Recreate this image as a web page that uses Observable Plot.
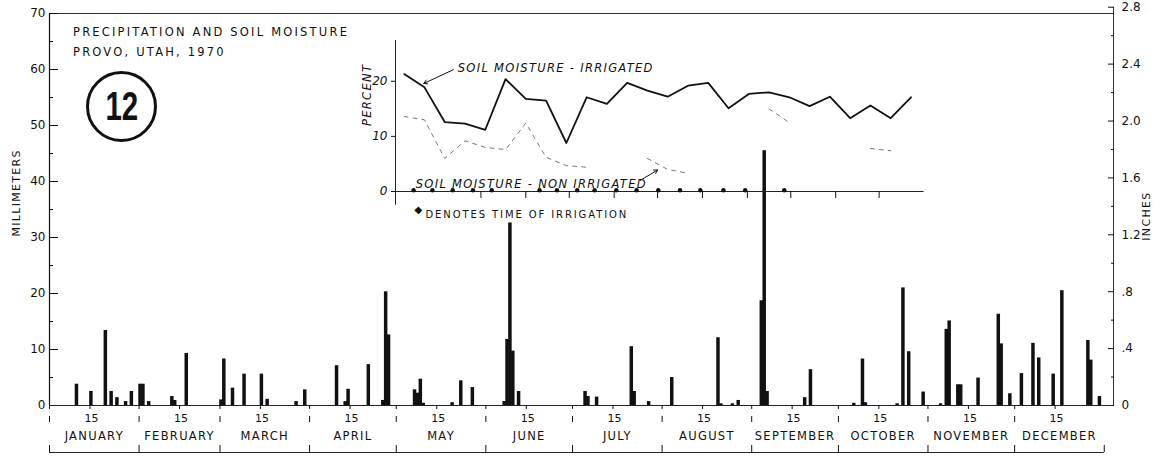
<!DOCTYPE html>
<html><head><meta charset="utf-8">
<script src="https://cdn.jsdelivr.net/npm/d3@7"></script>
<script src="https://cdn.jsdelivr.net/npm/@observablehq/plot@0.6"></script>
<style>
html,body{margin:0;padding:0;background:#fff;}
#wrap{position:relative;width:1162px;height:457px;overflow:hidden;font-family:"DejaVu Sans",sans-serif;color:#111;background:#fff;}
#main{position:absolute;left:0;top:0;}
#inset{position:absolute;left:340px;top:30px;}
.title{position:absolute;left:73px;font-size:11.5px;letter-spacing:2.2px;white-space:nowrap;}
.badge{position:absolute;left:86px;top:71px;width:65px;height:65px;border:3px solid #111;border-radius:50%;display:flex;align-items:center;justify-content:center;}
.badge span{font-family:"Liberation Sans",sans-serif;font-weight:bold;font-size:41px;transform:scaleX(0.72);display:inline-block;line-height:1;}
</style>
</head><body>
<div id="wrap">
  <div id="main"></div>
  <div class="title" style="top:25px">PRECIPITATION AND SOIL MOISTURE</div>
  <div class="title" style="top:45px">PROVO, UTAH, 1970</div>
  <div class="badge"><span>12</span></div>
  <div id="inset"></div>
</div>
<script>
// ---------- DATA ----------
// daily precipitation, Provo 1970 (millimeters)
const precipDates = ["01-10","01-15","01-20","01-22","01-24","01-27","01-29","02-01","02-02","02-04",
  "02-12","02-13","02-17","03-01","03-02","03-05","03-09","03-15","03-17","03-27","03-30",
  "04-10","04-13","04-14","04-21","04-26","04-27","04-28",
  "05-07","05-08","05-09","05-10","05-20","05-23","05-27",
  "06-07","06-08","06-09","06-10","06-12",
  "07-05","07-06","07-09","07-21","07-22","07-27",
  "08-04","08-20","08-21","08-25","08-27",
  "09-04","09-05","09-06","09-19","09-21",
  "10-06","10-09","10-10","10-21","10-23","10-25","10-30",
  "11-05","11-07","11-08","11-11","11-12","11-18","11-25","11-26","11-29",
  "12-03","12-07","12-09","12-14","12-17","12-26","12-27","12-30"];
const precipMM = [3.8,2.5,13.4,2.5,1.4,0.7,2.5,3.8,3.8,0.7,
  1.6,0.9,9.3,1.0,8.3,3.1,5.6,5.6,1.1,0.7,2.8,
  7.1,0.7,2.9,7.3,0.9,20.3,12.6,
  2.8,2.2,4.7,0.4,0.5,4.4,3.2,
  0.7,11.8,32.6,9.7,2.5,
  2.5,1.6,1.5,10.5,2.5,0.7,
  5.0,12.1,0.3,0.3,0.9,
  18.7,45.5,2.5,1.4,6.4,
  0.4,8.3,0.5,0.3,21.0,9.6,2.4,
  0.3,13.6,15.1,3.7,3.7,4.9,16.3,11.0,2.1,
  5.7,11.1,8.5,5.6,20.5,11.6,8.1,1.6];

// soil moisture samples (percent)
const sampleDates = ["01-07","01-21","02-04","02-18","03-04","03-18","04-01","04-15","04-29","05-13",
  "05-27","06-10","06-24","07-08","07-22","08-05","08-19","09-02","09-16","09-30",
  "10-14","10-28","11-11","11-25","12-09","12-23"];
const irrigatedPct = [21.3,18.9,12.6,12.3,11.2,20.4,16.8,16.5,8.8,17.1,
  15.9,19.7,18.3,17.2,19.2,19.7,15.1,17.7,18.0,17.1,
  15.5,17.2,13.3,15.6,13.3,17.1];
const nonIrrigatedPct = [13.6,13.0,6.0,9.2,8.0,7.6,12.4,6.2,4.7,4.4,
  null,null,6.0,4.0,3.3,null,null,null,15.0,12.5,
  null,null,null,7.8,7.4,null];
const irrigationDates = ["01-13","01-26","02-09","02-23","03-08","04-10","04-22","05-06","05-18",
  "06-02","06-16","07-01","07-16","07-30","08-15","08-30","09-26"];

// axes
const months = ["JANUARY","FEBRUARY","MARCH","APRIL","MAY","JUNE","JULY","AUGUST","SEPTEMBER","OCTOBER","NOVEMBER","DECEMBER"];
const monthStartDates = ["01-01","02-01","03-01","04-01","05-01","06-01","07-01","08-01","09-01","10-01","11-01","12-01"];
const mmTicks = [0,10,20,30,40,50,60,70];
const mmMinor = [5,15,25,35,45,55,65];
const inchTicks = [0,0.4,0.8,1.2,1.6,2.0,2.4,2.8];
const inchLabels = ["0",".4",".8","1.2","1.6","2.0","2.4","2.8"];
const inchMinor = [0.2,0.6,1.0,1.4,1.8,2.2,2.6];
const pctTicks = [0,10,20];
const insetMonthTicks = ["03-01","04-01","05-01","06-01","07-01","08-01","09-01","10-01","11-01","12-01"];

// ---------- helpers ----------
const jan1 = new Date(Date.UTC(1970,0,1));
const doy = s => { const [m,d] = s.split("-").map(Number); return d3.utcDay.count(jan1, new Date(Date.UTC(1970,m-1,d))); };
const MM_PER_INCH = 25.4;
const yearDays = 365;
const xMax = 368.2; // right (inches) axis sits just past Dec 31

const rain = precipDates.map((s,i) => ({day: doy(s), mm: precipMM[i]}));
const monthStarts = monthStartDates.map(doy);
const monthBounds = [...monthStarts, yearDays];
const fifteenths = monthStartDates.map(s => doy(s) + 14.5);
const monthMids = monthStarts.map((d,i) => (d + monthBounds[i+1]) / 2);
const monthByMid = new Map(monthMids.map((d,i) => [d, months[i]]));
const firstAnd15 = [...monthStarts, ...monthStartDates.map(s => doy(s) + 14)];
const inchMM = inchTicks.map(v => v * MM_PER_INCH);
const inchMinorMM = inchMinor.map(v => v * MM_PER_INCH);
const inchLabelByMM = new Map(inchMM.map((v,i) => [v, inchLabels[i]]));
const blank = () => "";

const main = Plot.plot({
  width: 1162, height: 457,
  marginLeft: 49, marginRight: 49, marginTop: 13, marginBottom: 52,
  x: {domain: [0, xMax], axis: null},
  y: {domain: [0, 70], axis: null, label: null},
  style: {fontFamily: "DejaVu Sans, sans-serif", color: "#111", background: "transparent", overflow: "visible"},
  marks: [
    // frame lines
    Plot.ruleY([70], {x1: 0, x2: xMax, stroke: "#333", strokeWidth: 1}),
    Plot.ruleX([0], {y1: 0, y2: 70, stroke: "#111", strokeWidth: 1.2}),
    Plot.ruleX([xMax], {y1: 0, y2: 2.8 * MM_PER_INCH, stroke: "#333", strokeWidth: 1}),
    // left axis (mm)
    Plot.axisY(mmTicks, {tickSize: 9, dx: 9, tickFormat: blank, label: null}),
    Plot.axisY(mmMinor, {tickSize: 4, dx: 4, tickFormat: blank, label: null}),
    Plot.axisY(mmTicks, {tickSize: 0, tickPadding: 4, fontSize: 12, label: null}),
    // right axis (inches)
    Plot.axisY(inchMM, {anchor: "right", tickSize: 6, dx: -6, tickFormat: blank, label: null}),
    Plot.axisY(inchMinorMM, {anchor: "right", tickSize: 3, dx: -3, tickFormat: blank, label: null}),
    Plot.axisY(inchMM, {anchor: "right", tickSize: 0, tickPadding: 8, fontSize: 12, tickFormat: d => inchLabelByMM.get(d), label: null}),
    // bars
    Plot.rectY(rain, {x1: "day", x2: d => d.day + 1, y: "mm", fill: "#111", insetLeft: -0.3, insetRight: -0.3}),
    // baseline + date axis
    Plot.ruleY([0], {x1: 0, x2: xMax, stroke: "#222", strokeWidth: 1}),
    Plot.axisX(firstAnd15, {tickSize: 4, tickFormat: blank, label: null}),
    Plot.axisX(fifteenths, {tickSize: 0, tickPadding: 9, fontSize: 11, tickFormat: () => "15", label: null}),
    Plot.axisX(monthStarts, {tickSize: 6, dy: 11, tickFormat: blank, label: null}),
    Plot.axisX(monthMids, {tickSize: 0, tickPadding: 26, fontSize: 11.5, tickFormat: d => monthByMid.get(d), label: null}),
    Plot.axisX(monthBounds, {tickSize: 7, dy: 40, tickFormat: blank, label: null}),
    Plot.ruleY([0], {x1: 0, x2: yearDays, dy: 47, stroke: "#222"}),
    // axis titles
    Plot.text(["MILLIMETERS"], {frameAnchor: "left", rotate: -90, dx: -33, dy: 27, fontSize: 11}),
    Plot.text(["INCHES"], {frameAnchor: "right", rotate: -90, dx: 33, dy: -18, fontSize: 11})
  ]
});
document.getElementById("main").appendChild(main);

// ---------- inset: soil moisture ----------
const irr = sampleDates.map((s,i) => ({day: doy(s), pct: irrigatedPct[i]}));
const nonIrr = sampleDates.map((s,i) => ({day: doy(s), pct: nonIrrigatedPct[i]}));
const irrig = irrigationDates.map(s => ({day: doy(s) + 0.5}));
const labels = [
  {day: 43, pct: 22.4, text: "SOIL MOISTURE - IRRIGATED"},
  {day: 14, pct: 1.3, text: "SOIL MOISTURE - NON IRRIGATED"}
];
const arrows = [
  {x1: 40, y1: 22.1, x2: 19.5, y2: 19.6},
  {x1: 169, y1: 2.0, x2: 181, y2: 3.9}
];

const inset = Plot.plot({
  width: 600, height: 200,
  marginLeft: 55, marginRight: 16.5, marginTop: 10, marginBottom: 39,
  x: {domain: [0, yearDays], axis: null},
  y: {domain: [0, 27.4], axis: null, label: null},
  style: {fontFamily: "DejaVu Sans, sans-serif", color: "#111", background: "transparent", overflow: "visible"},
  marks: [
    Plot.ruleX([0], {y1: -2.5, y2: 27.4, stroke: "#222"}),
    Plot.ruleY([0], {x1: 0, x2: yearDays, stroke: "#222"}),
    Plot.axisY(pctTicks, {tickSize: 4, tickFormat: blank, label: null}),
    Plot.text(pctTicks, {x: 0, y: d => d, text: d => String(d), dx: -8, textAnchor: "end", fontStyle: "italic", fontSize: 12}),
    Plot.axisX(insetMonthTicks.map(doy), {tickSize: 7, tickFormat: blank, label: null}),
    Plot.line(nonIrr, {x: "day", y: "pct", stroke: "#777", strokeWidth: 1, strokeDasharray: "4,5"}),
    Plot.line(irr, {x: "day", y: "pct", stroke: "#111", strokeWidth: 1.8}),
    Plot.dot(irrig, {x: "day", y: 0, r: 2.2, fill: "#111", dy: -1.2}),
    Plot.text(labels, {x: "day", y: "pct", text: "text", textAnchor: "start", fontStyle: "italic", fontSize: 11.5}),
    Plot.arrow(arrows, {x1: "x1", y1: "y1", x2: "x2", y2: "y2", stroke: "#111", strokeWidth: 1, headLength: 6}),
    Plot.text(["PERCENT"], {frameAnchor: "left", rotate: -90, dx: -28, dy: 10, fontStyle: "italic", fontSize: 11.5}),
    Plot.text(["◆"], {frameAnchor: "bottom-left", dx: 19, dy: 21, fontSize: 10}),
    Plot.text(["DENOTES TIME OF IRRIGATION"], {frameAnchor: "bottom-left", dx: 30, dy: 26, textAnchor: "start", fontSize: 10})
  ]
});
document.getElementById("inset").appendChild(inset);

// letter-spacing for the hand-lettered capitals
for (const svg of [main, inset]) {
  d3.select(svg).selectAll("text").each(function() {
    const t = this.textContent;
    if (/^DENOTES/.test(t)) d3.select(this).style("letter-spacing", "1.9px");
    else if (/[A-Z]{2}/.test(t)) d3.select(this).style("letter-spacing", "1.3px");
  });
}
</script>
</body></html>
